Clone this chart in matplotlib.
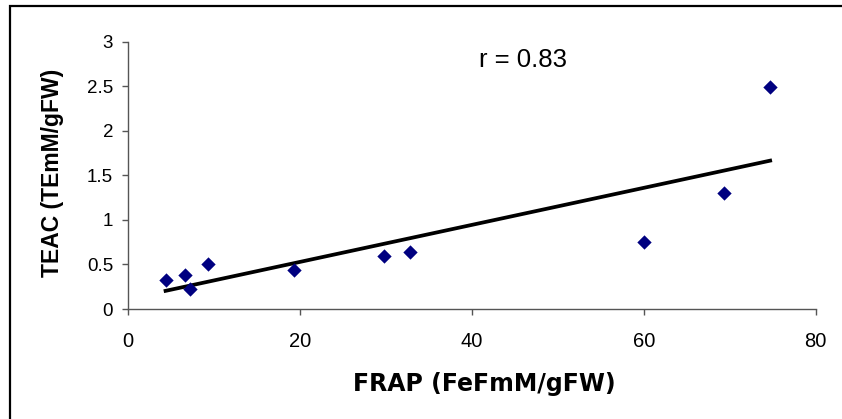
import numpy as np
import matplotlib
matplotlib.use("Agg")
import matplotlib.pyplot as plt
from matplotlib.patches import Rectangle

# Data
frap = [4.4, 6.7, 7.2, 9.3, 19.3, 29.8, 32.8, 60.0, 69.3, 74.7]
teac = [0.32, 0.38, 0.22, 0.50, 0.44, 0.60, 0.64, 0.75, 1.30, 2.49]
x_ticks = [0, 20, 40, 60, 80]
y_ticks = [0, 0.5, 1, 1.5, 2, 2.5, 3]
y_tick_labels = ["0", "0.5", "1", "1.5", "2", "2.5", "3"]
r_label = "r = 0.83"
x_label = "FRAP (FeFmM/gFW)"
y_label = "TEAC (TEmM/gFW)"

plt.rcParams['font.family'] = ['Liberation Sans', 'DejaVu Sans']

fig = plt.figure(figsize=(8.42, 4.19), dpi=100)
ax = fig.add_axes([0.1517, 0.2625, 0.9688 - 0.1517, 0.9005 - 0.2625])

ax.scatter(frap, teac, marker='D', s=7.3**2, color='#000080', zorder=3, linewidths=0)

coef = np.polyfit(frap, teac, 1)
xs = np.array([min(frap), max(frap)])
ax.plot(xs, np.polyval(coef, xs), color='black', linewidth=2.7, zorder=2)

ax.set_xlim(0, 80)
ax.set_ylim(0, 3)
ax.set_xticks(x_ticks)
ax.set_yticks(y_ticks)
ax.set_yticklabels(y_tick_labels)

for s in ['top', 'right']:
    ax.spines[s].set_visible(False)
for s in ['left', 'bottom']:
    ax.spines[s].set_color('#555555')
    ax.spines[s].set_linewidth(1.0)

ax.tick_params(axis='both', direction='out', length=4.5, width=1.0, color='#555555')
ax.tick_params(axis='x', labelsize=14.5, pad=12)
ax.tick_params(axis='y', labelsize=13.5, pad=6)

ax.text(46, 2.8, r_label, fontsize=18.5, ha='center', va='center')

fig.text(0.5746, 1 - 384 / 419, x_label, fontsize=17, fontweight='bold',
         family=['DejaVu Sans'], ha='center', va='center')
fig.text(0.0618, 1 - 173 / 419, y_label, fontsize=16.5, fontweight='bold',
         rotation=90, ha='center', va='center')

# outer chart-area frame (cut off at right and bottom)
fig.add_artist(Rectangle((10 / 842, -0.1), 1.2, 1.1 - 5.8 / 419,
                         transform=fig.transFigure, fill=False,
                         edgecolor='black', linewidth=1.6))

fig.savefig("out.png", dpi=100)
